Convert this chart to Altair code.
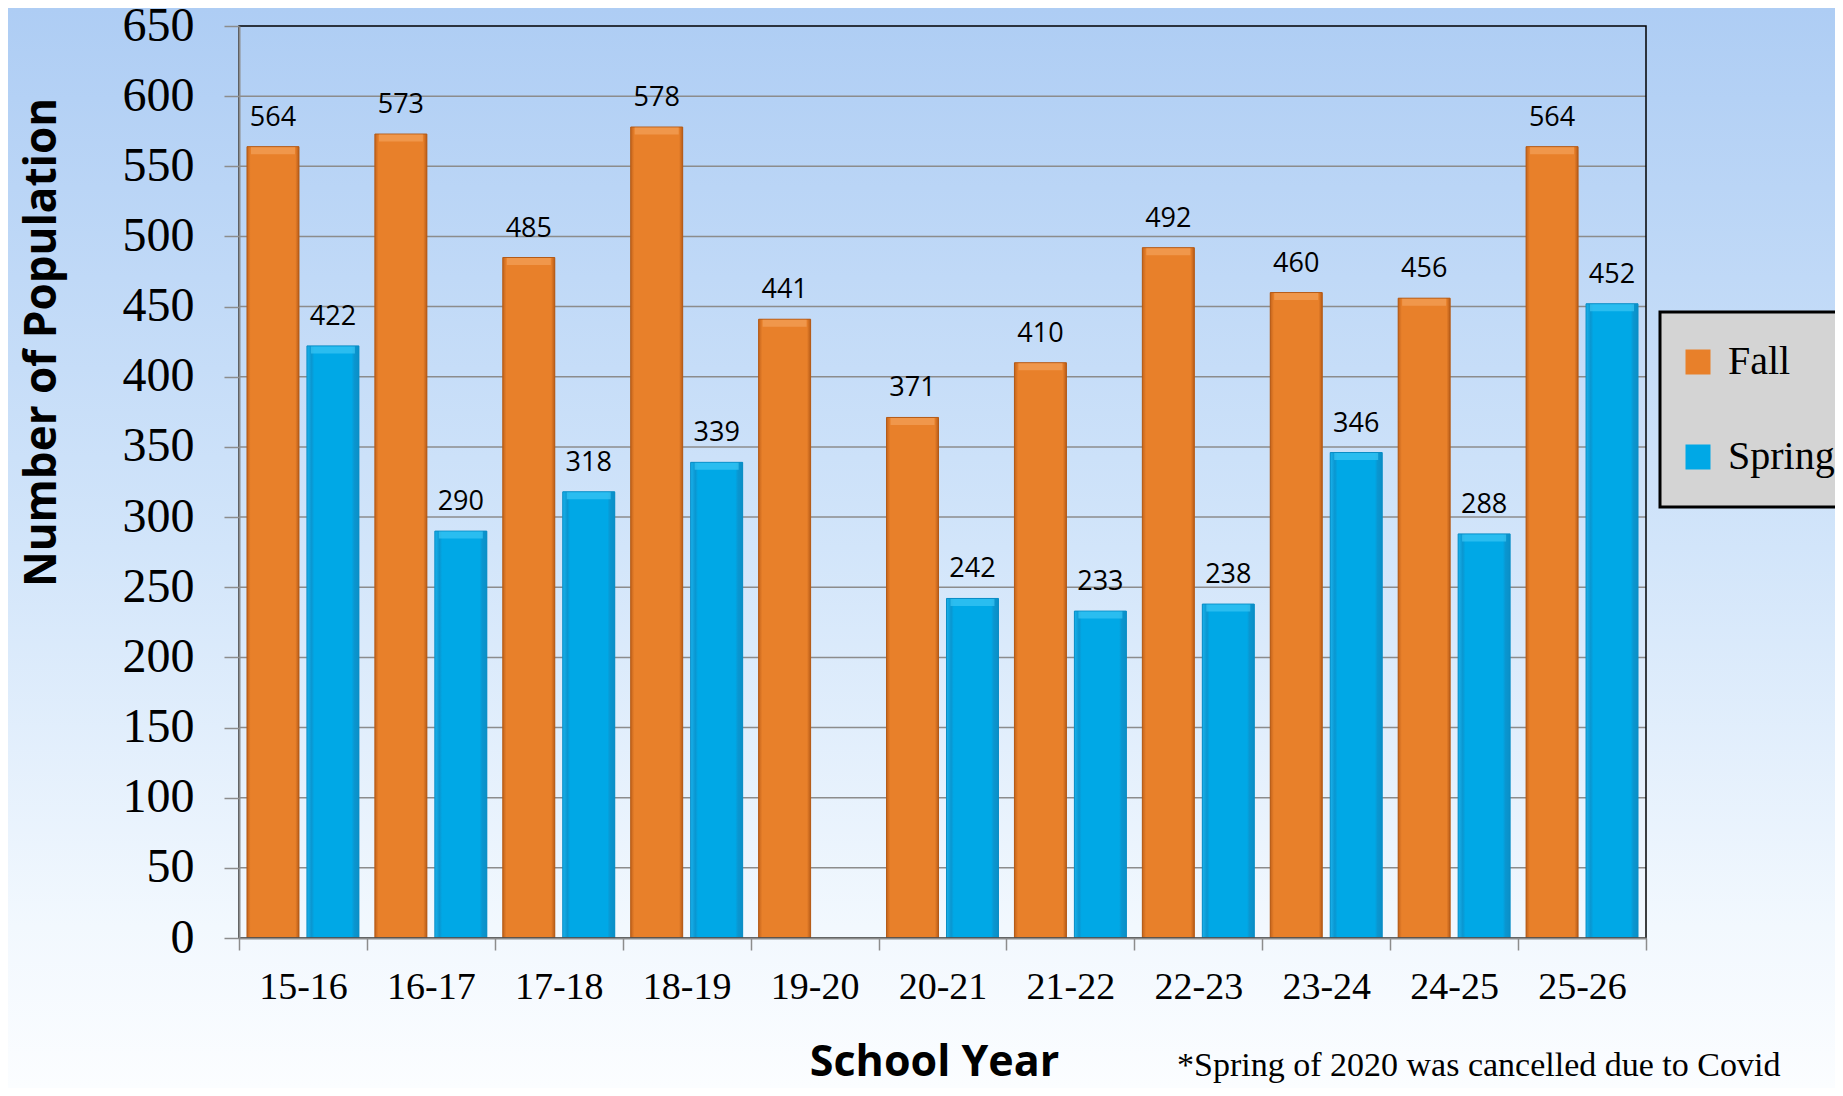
import altair as alt
import pandas as pd

years = ["15-16", "16-17", "17-18", "18-19", "19-20", "20-21",
         "21-22", "22-23", "23-24", "24-25", "25-26"]
fall = [564, 573, 485, 578, 441, 371, 410, 492, 460, 456, 564]
spring = [422, 290, 318, 339, None, 242, 233, 238, 346, 288, 452]
seasons = ["Fall", "Spring"]
y_ticks = [0, 50, 100, 150, 200, 250, 300, 350, 400, 450, 500, 550, 600, 650]
note = ["*Spring of 2020 was cancelled due to Covid"]

rows = []
for yr, f, s in zip(years, fall, spring):
    rows.append({"year": yr, "season": "Fall", "value": f})
    if s is not None:
        rows.append({"year": yr, "season": "Spring", "value": s})
df = pd.DataFrame(rows)

W, H = 1407, 912
PL, PT, PR, PB = 231, 18, 189, 150

ORANGE = "#e8802a"
BLUE = "#00a8e6"

x_enc = alt.X(
    "year:N", sort=years,
    scale=alt.Scale(paddingInner=0, paddingOuter=0),
    title="School Year",
    axis=alt.Axis(
        labelFont="Liberation Serif", labelFontSize=38, labelColor="black",
        labelAngle=0, labelPadding=18, tickSize=12, tickColor="#8c8c8c",
        tickWidth=1.5, tickBand="extent", domainColor="#8c8c8c", domainWidth=2,
        titleFont="Open Sans", titleFontWeight="bold", titleFontSize=43,
        titleColor="black", titleX=695, titleY=137, titleBaseline="alphabetic",
        titleAlign="center", zindex=1, grid=False,
    ),
)
xoff = alt.XOffset(
    "season:N", sort=seasons,
    scale=alt.Scale(domain=seasons, paddingInner=0.1333, paddingOuter=0.1333),
)
y_enc = alt.Y(
    "value:Q",
    scale=alt.Scale(domain=[0, 650], nice=False, zero=True),
    title="Number of Population",
    axis=alt.Axis(
        values=y_ticks, labelFont="Liberation Serif", labelFontSize=48,
        labelColor="black", labelPadding=30, tickSize=15, tickColor="#8c8c8c",
        tickWidth=1.5, domainColor="#8c8c8c", domainWidth=2, grid=False,
        titleFont="Open Sans", titleFontWeight="bold", titleFontSize=44,
        titleColor="black", titleAngle=270, titleX=-184, titleY=316,
        titleAlign="center", titleBaseline="alphabetic", zindex=1,
    ),
)

bg_grad = alt.Gradient(
    gradient="linear", x1=0, y1=0, x2=0, y2=1,
    stops=[
        alt.GradientStop(offset=0, color="#aecdf4"),
        alt.GradientStop(offset=0.5, color="#d2e5fa"),
        alt.GradientStop(offset=0.85, color="#f2f8fe"),
        alt.GradientStop(offset=1, color="#fbfdff"),
    ],
)
orange_grad = alt.Gradient(
    gradient="linear", x1=0, y1=0, x2=1, y2=0,
    stops=[
        alt.GradientStop(offset=0, color="#c4641c"),
        alt.GradientStop(offset=0.07, color="#e8802a"),
        alt.GradientStop(offset=0.93, color="#e8802a"),
        alt.GradientStop(offset=1, color="#b85c18"),
    ],
)
blue_grad = alt.Gradient(
    gradient="linear", x1=0, y1=0, x2=1, y2=0,
    stops=[
        alt.GradientStop(offset=0, color="#19b2ec"),
        alt.GradientStop(offset=0.09, color="#0a96d0"),
        alt.GradientStop(offset=0.14, color="#00a8e6"),
        alt.GradientStop(offset=0.86, color="#00a8e6"),
        alt.GradientStop(offset=0.91, color="#0a96d0"),
        alt.GradientStop(offset=1, color="#0a8fc7"),
    ],
)

one = pd.DataFrame({"k": [0]})

background = alt.Chart(one).mark_rect(color=bg_grad).encode(
    x=alt.value(-PL), x2=alt.value(W + PR), y=alt.value(-PT), y2=alt.value(H + PB)
)

grid = alt.Chart(pd.DataFrame({"value": y_ticks[1:-1]})).mark_rule(
    color="#8c8c8c", strokeWidth=1.5
).encode(y=y_enc)

base_bars = alt.Chart(df).mark_bar().encode(
    x=x_enc, xOffset=xoff, y=y_enc,
    color=alt.Color(
        "season:N", sort=seasons,
        scale=alt.Scale(domain=seasons, range=[ORANGE, BLUE]),
        legend=alt.Legend(
            orient="none", legendX=1421, legendY=286, title=None,
            fillColor="#d4d4d4", strokeColor="black", padding=18,
            symbolType="square", symbolSize=625, symbolStrokeWidth=0,
            labelFont="Liberation Serif", labelFontSize=40, labelColor="black",
            clipHeight=64, rowPadding=31, labelOffset=10, direction="vertical",
        ),
    ),
)

fall_bars = alt.Chart(df).transform_filter(alt.datum.season == "Fall").mark_bar(
    color=orange_grad, stroke="#b35a17", strokeWidth=1
).encode(x=x_enc, xOffset=xoff, y=y_enc)

spring_bars = alt.Chart(df).transform_filter(alt.datum.season == "Spring").mark_bar(
    color=blue_grad, stroke="#0a8cc4", strokeWidth=1
).encode(x=x_enc, xOffset=xoff, y=y_enc)

bevel = alt.Chart(df).mark_tick(size=44, thickness=7, yOffset=4).encode(
    x=x_enc, xOffset=xoff, y=y_enc,
    color=alt.condition(alt.datum.season == "Fall",
                        alt.value("#f4a15a"), alt.value("#3cc6f4")),
)

labels = alt.Chart(df).mark_text(
    font="Open Sans", fontSize=27, color="black", baseline="alphabetic", dy=-21
).encode(x=x_enc, xOffset=xoff, y=y_enc, text="value:Q")

frame = alt.Chart(one).mark_rect(
    fillOpacity=0, stroke="black", strokeWidth=1.5
).encode(x=alt.value(0), x2=alt.value(W), y=alt.value(0), y2=alt.value(H))

note_text = alt.Chart(pd.DataFrame({"t": note})).mark_text(
    font="Liberation Serif", fontSize=34, color="black",
    align="left", baseline="alphabetic"
).encode(x=alt.value(938), y=alt.value(1050), text="t:N")

chart = alt.layer(
    background, grid, base_bars, fall_bars, spring_bars, bevel, labels,
    frame, note_text
).properties(
    width=W, height=H,
    autosize=alt.AutoSizeParams(type="none"),
    padding={"left": PL, "top": PT, "right": PR, "bottom": PB},
).configure_view(stroke=None).configure_legend(strokeWidth=3)

chart.save("out.html", embed_options={"renderer": "svg", "actions": False})
